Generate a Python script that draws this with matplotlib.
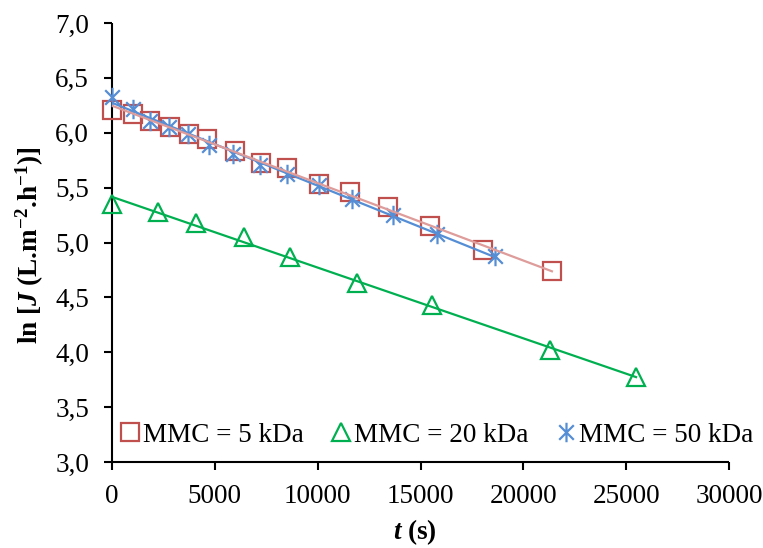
import numpy as np
import matplotlib
matplotlib.use("Agg")
import matplotlib.pyplot as plt
from matplotlib.path import Path
from matplotlib.ticker import FuncFormatter, MultipleLocator

plt.rcParams["font.family"] = ["Liberation Serif", "DejaVu Serif"]
plt.rcParams["mathtext.fontset"] = "custom"
plt.rcParams["mathtext.rm"] = "Liberation Serif"
plt.rcParams["mathtext.it"] = "Liberation Serif:italic"
plt.rcParams["mathtext.bf"] = "Liberation Serif:bold"
plt.rcParams["mathtext.bfit"] = "Liberation Serif:italic:bold"

# Permeate flux, ln J versus filtration time t (s)
t_5kda = [0, 1040, 1850, 2820, 3740, 4600, 5980, 7230, 8490, 10070, 11570, 13430, 15460, 18020, 21390]
lnj_5kda = [6.21, 6.17, 6.11, 6.05, 5.99, 5.94, 5.83, 5.72, 5.68, 5.53, 5.46, 5.32, 5.15, 4.93, 4.74]

t_20kda = [0, 2220, 4080, 6400, 8670, 11910, 15560, 21300, 25480]
lnj_20kda = [5.35, 5.28, 5.18, 5.05, 4.87, 4.63, 4.43, 4.02, 3.77]

t_50kda = [0, 1010, 1850, 2770, 3710, 4720, 5870, 7200, 8490, 10070, 11670, 13680, 15790, 18620]
lnj_50kda = [6.33, 6.22, 6.11, 6.05, 5.99, 5.89, 5.81, 5.71, 5.62, 5.52, 5.40, 5.25, 5.08, 4.88]

labels = ["MMC = 5 kDa", "MMC = 20 kDa", "MMC = 50 kDa"]

# Excel-style star: vertical bar plus a diagonal cross
star = Path(
    [(0, -1), (0, 1), (-0.75, -0.75), (0.75, 0.75), (-0.75, 0.75), (0.75, -0.75)],
    [Path.MOVETO, Path.LINETO, Path.MOVETO, Path.LINETO, Path.MOVETO, Path.LINETO],
)

red, red_line = "#C0504D", "#DE9C9A"
green = "#00B050"
blue = "#558ED5"
fs = 19.5

fig = plt.figure(figsize=(7.63, 5.48), dpi=100)
ax = fig.add_axes([112 / 763, 86 / 548, 617 / 763, 439 / 548])

series = [
    (t_5kda, lnj_5kda, "s", red, red_line, 13, labels[0]),
    (t_20kda, lnj_20kda, "^", green, green, 13.5, labels[1]),
    (t_50kda, lnj_50kda, star, blue, blue, 14, labels[2]),
]

handles = []
for t, y, mk, col, lcol, ms, lab in series:
    h, = ax.plot(t, y, linestyle="none", marker=mk, markersize=ms,
                 markerfacecolor="none", markeredgecolor=col,
                 markeredgewidth=1.6, label=lab, zorder=3, clip_on=False)
    handles.append(h)

# Linear trendlines
for t, y, mk, col, lcol, ms, lab in [series[2], series[0], series[1]]:
    k, b = np.polyfit(t, y, 1)
    xs = np.array([0, max(t)])
    ax.plot(xs, k * xs + b, color=lcol, linewidth=1.6, zorder=4)

ax.set_xlim(0, 30000)
ax.set_ylim(3.0, 7.0)
ax.xaxis.set_major_locator(MultipleLocator(5000))
ax.yaxis.set_major_locator(MultipleLocator(0.5))
ax.yaxis.set_major_formatter(FuncFormatter(lambda v, p: f"{v:.1f}".replace(".", ",")))

for side in ("top", "right"):
    ax.spines[side].set_visible(False)
for side in ("left", "bottom"):
    ax.spines[side].set_linewidth(1.5)
    ax.spines[side].set_color("black")
    ax.spines[side].set_capstyle("butt")

ax.tick_params(axis="both", direction="out", length=5.5, width=1.5,
               labelsize=fs, colors="black")
ax.tick_params(axis="x", pad=10.5)
ax.tick_params(axis="y", pad=11)

fig.text(30 / 763, 1 - 245 / 548,
         r"ln [$\mathbfit{J}$ (L.m$^{\mathbf{-2}}$.h$^{\mathbf{-1}}$)]",
         rotation=90, ha="center", va="center", fontsize=fs, fontweight="bold")
fig.text(415 / 763, 1 - 532 / 548, r"$\mathbfit{t}$ (s)",
         ha="center", va="center", fontsize=fs, fontweight="bold")

fig.legend(handles=handles, loc="center left",
           bbox_to_anchor=(122 / 763, 1 - 435 / 548), bbox_transform=fig.transFigure,
           ncol=3, frameon=False, fontsize=fs, handlelength=0.6,
           handletextpad=0.18, columnspacing=1.08, borderpad=0, borderaxespad=0)

fig.savefig("out.png", dpi=100)
